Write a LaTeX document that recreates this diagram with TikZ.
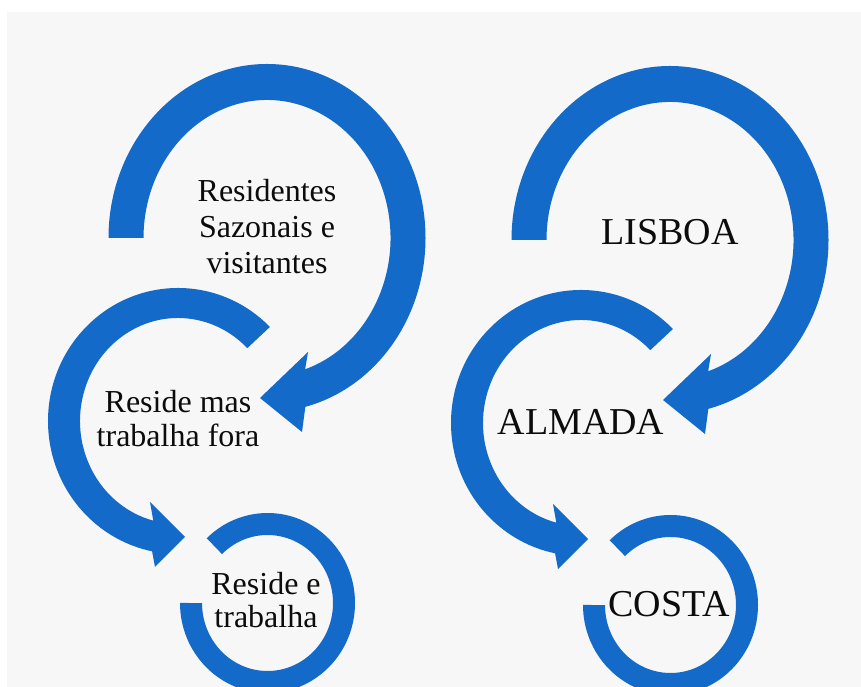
\documentclass[tikz,border=0pt]{standalone}
\usepackage{fontspec}
\newfontfamily\timesfont{Liberation Serif}
\definecolor{arrowblue}{RGB}{19,106,200}
\definecolor{panelgray}{RGB}{247,247,247}
\definecolor{inkdark}{RGB}{12,12,12}
\begin{document}
\begin{tikzpicture}[x=1pt,y=1pt,
  arrowshape/.style={fill=arrowblue},
  leftlabel/.style={inner sep=0pt,align=center,text=inkdark},
  rightlabel/.style={inner sep=0pt,anchor=base,text=inkdark,font=\timesfont\fontsize{38}{44}\selectfont}]
\useasboundingbox (0,0) rectangle (861,687);
\clip (0,0) rectangle (861,687);
\fill[white] (0,0) rectangle (861,687);
\fill[panelgray] (7,0) rectangle (861,675);

\foreach \dx/\dy in {0/0, 403/-2}{
\begin{scope}[xshift=\dx pt,yshift=\dy pt]
  % big arc with arrow pointing left
  \fill[arrowshape] (108.5,449)
    arc[start angle=180,end angle=-76,x radius=158.5pt,y radius=174pt]
    -- (302,255) -- (260,289) -- (308,335) -- (305.16,317.75)
    arc[start angle=-72,end angle=180,x radius=123.5pt,y radius=138pt]
    -- cycle;
  % middle arc with arrow pointing right
  \fill[arrowshape] (269.92,360.05)
    arc[start angle=45,end angle=258.5,x radius=130pt,y radius=133pt]
    -- (155,120) -- (185,150) -- (150,185) -- (153.30,166.33)
    arc[start angle=255.4,end angle=45,x radius=98pt,y radius=103pt]
    -- cycle;
  % bottom open ring
  \fill[arrowshape] (180,84)
    arc[start angle=180,end angle=494,x radius=87.5pt,y radius=90pt]
    -- (222.0,132.91)
    arc[start angle=494,end angle=180,x radius=65.5pt,y radius=68pt]
    -- cycle;
\end{scope}
}

\node[leftlabel,font=\timesfont\fontsize{32}{36}\selectfont] (residentes) at (267,460)
  {Residentes\\Sazonais e\\visitantes};
\node[leftlabel,font=\timesfont\fontsize{32}{34}\selectfont] (foraloc) at (178,268)
  {Reside mas\\trabalha fora};
\node[leftlabel,font=\timesfont\fontsize{32}{33}\selectfont] (resideloc) at (266,86.5)
  {Reside e\\trabalha};

\node[rightlabel] (lisboa) at (670,442) {LISBOA};
\node[rightlabel] (almada) at (581,252) {ALMADA};
\node[rightlabel] (costa) at (669,70) {COSTA};
\end{tikzpicture}
\end{document}
